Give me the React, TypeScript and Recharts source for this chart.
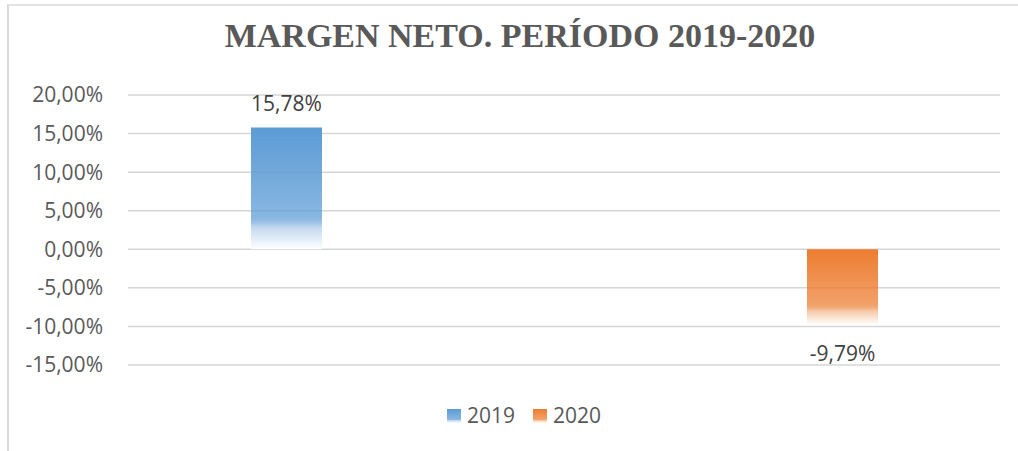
import { BarChart, Bar, XAxis, YAxis, CartesianGrid, LabelList } from 'recharts'

const CATEGORIES = ['Margen neto']
const YEARS = ['2019', '2020']
const VALUES_2019 = [15.78]
const VALUES_2020 = [-9.79]
const Y_TICKS = [-15, -10, -5, 0, 5, 10, 15, 20]

const COLORS = ['#5B9BD5', '#ED7D31']
const FADES = ['#C3D9EF', '#F6CBAA']

const data = CATEGORIES.map((name, i) => ({
  name,
  '2019': VALUES_2019[i],
  '2020': VALUES_2020[i],
}))

const fmt = (v: number) => v.toFixed(2).replace('.', ',') + '%'

const AXIS_FONT = '"Open Sans", sans-serif'

function ValueLabel(props: any) {
  const { x, y, width, height, value } = props
  const top = Math.min(y, y + height)
  const bottom = Math.max(y, y + height)
  const ty = value >= 0 ? top - 17 : bottom + 36
  return (
    <text
      x={x + width / 2}
      y={ty}
      textAnchor="middle"
      fill="#404040"
      fontSize={21}
      fontFamily={AXIS_FONT}
    >
      {fmt(value)}
    </text>
  )
}

function Gradient({ id, color, fade }: { id: string; color: string; fade: string }) {
  return (
    <linearGradient id={id} x1="0" y1="0" x2="0" y2="1">
      <stop offset="0%" stopColor={color} />
      <stop offset="74%" stopColor={color} stopOpacity={0.72} />
      <stop offset="82%" stopColor={fade} />
      <stop offset="100%" stopColor="#FFFFFF" />
    </linearGradient>
  )
}

export default function App() {
  return (
    <div
      style={{
        position: 'absolute',
        left: 0,
        top: 0,
        width: 1018,
        height: 451,
        overflow: 'hidden',
        background: '#fff',
      }}
    >
      <div
        style={{
          position: 'absolute',
          left: 7,
          top: 4,
          width: 1100,
          height: 500,
          borderLeft: '2px solid #D9D9D9',
          borderTop: '2px solid #E3E3E3',
        }}
      />
      <div style={{ position: 'absolute', left: 0, top: 0 }}>
        <BarChart
          width={1018}
          height={451}
          data={data}
          margin={{ top: 95, right: 18, bottom: 86, left: 0 }}
          barSize={71}
          barGap={485}
        >
          <defs>
            {YEARS.map((y, i) => (
              <Gradient key={y} id={`grad${y}`} color={COLORS[i]} fade={FADES[i]} />
            ))}
          </defs>
          <CartesianGrid vertical={false} stroke="#D6D6D6" strokeWidth={1.5} />
          <XAxis dataKey="name" hide />
          <YAxis
            width={128}
            domain={[-15, 20]}
            ticks={Y_TICKS}
            tickFormatter={fmt}
            axisLine={false}
            tickLine={false}
            tickSize={0}
            tickMargin={25}
            tick={{ fill: '#595959', fontSize: 21, fontFamily: AXIS_FONT }}
          />
          {YEARS.map((y) => (
            <Bar key={y} dataKey={y} fill={`url(#grad${y})`} isAnimationActive={false}>
              <LabelList dataKey={y} content={ValueLabel} />
            </Bar>
          ))}
        </BarChart>
      </div>
      <svg
        width={1018}
        height={451}
        style={{ position: 'absolute', left: 0, top: 0, pointerEvents: 'none' }}
      >
        <defs>
          {YEARS.map((y, i) => (
            <Gradient key={y} id={`legend${y}`} color={COLORS[i]} fade={FADES[i]} />
          ))}
        </defs>
        <text
          x={520}
          y={47}
          textAnchor="middle"
          fill="#595959"
          fontSize={34}
          fontWeight="bold"
          fontFamily='"Liberation Serif", "Times New Roman", serif'
        >
          MARGEN NETO. PERÍODO 2019-2020
        </text>
        {YEARS.map((y, i) => (
          <g key={y}>
            <rect x={447 + i * 86} y={409} width={14} height={14} fill={`url(#legend${y})`} />
            <text
              x={467 + i * 86}
              y={423}
              fill="#595959"
              fontSize={21}
              fontFamily={AXIS_FONT}
            >
              {y}
            </text>
          </g>
        ))}
      </svg>
    </div>
  )
}
